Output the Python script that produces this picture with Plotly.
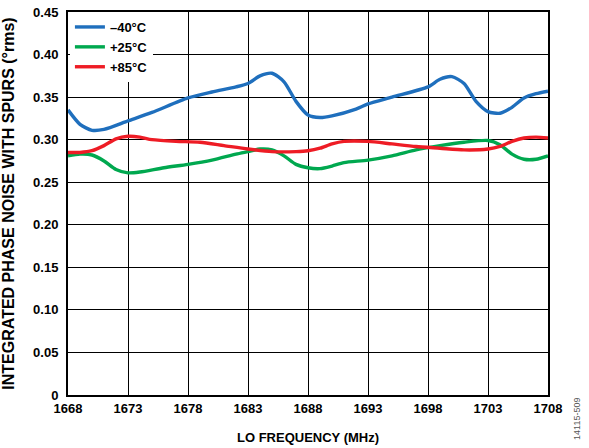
import plotly.graph_objects as go

freq_blue = [1668, 1669, 1670, 1671, 1673, 1675, 1678, 1680, 1682, 1683, 1684, 1685, 1686, 1687, 1688, 1689, 1690, 1692, 1693, 1695, 1698, 1699, 1700, 1701, 1702, 1703, 1704, 1705, 1706, 1707, 1708]
val_blue = [0.335, 0.318, 0.311, 0.312, 0.322, 0.332, 0.349, 0.356, 0.362, 0.366, 0.375, 0.378, 0.368, 0.345, 0.329, 0.326, 0.328, 0.336, 0.342, 0.350, 0.362, 0.371, 0.374, 0.366, 0.345, 0.333, 0.331, 0.338, 0.349, 0.354, 0.357]

freq_green = [1668, 1669, 1670, 1671, 1672, 1673, 1674, 1676, 1678, 1680, 1682, 1683, 1684, 1685, 1686, 1687, 1688, 1689, 1690, 1691, 1693, 1695, 1697, 1699, 1701, 1703, 1704, 1705, 1706, 1707, 1708]
val_green = [0.281, 0.283, 0.282, 0.275, 0.265, 0.261, 0.262, 0.267, 0.271, 0.276, 0.283, 0.286, 0.289, 0.288, 0.281, 0.271, 0.267, 0.266, 0.269, 0.273, 0.276, 0.281, 0.288, 0.293, 0.297, 0.299, 0.294, 0.283, 0.277, 0.277, 0.281]

freq_red = [1668, 1669, 1670, 1671, 1672, 1673, 1674, 1675, 1677, 1679, 1681, 1683, 1685, 1687, 1688, 1689, 1690, 1691, 1693, 1695, 1697, 1699, 1701, 1703, 1704, 1705, 1706, 1707, 1708]
val_red = [0.285, 0.285, 0.287, 0.293, 0.301, 0.304, 0.303, 0.300, 0.298, 0.297, 0.293, 0.289, 0.286, 0.286, 0.287, 0.290, 0.295, 0.298, 0.298, 0.295, 0.292, 0.290, 0.288, 0.289, 0.292, 0.298, 0.302, 0.303, 0.302]

series_names = ["\u201340\u00b0C", "+25\u00b0C", "+85\u00b0C"]
series_colors = ["#1f6fbd", "#00a84f", "#ee1c25"]

x_ticks = [1668, 1673, 1678, 1683, 1688, 1693, 1698, 1703, 1708]
y_ticks = [0, 0.05, 0.10, 0.15, 0.20, 0.25, 0.30, 0.35, 0.40, 0.45]
y_ticktext = ["0", "0.05", "0.10", "0.15", "0.20", "0.25", "0.30", "0.35", "0.40", "0.45"]

FONT = "Liberation Sans, Arial, Helvetica, sans-serif"

fig = go.Figure()
for xs, ys, name, col in zip([freq_blue, freq_green, freq_red],
                             [val_blue, val_green, val_red],
                             series_names, series_colors):
    fig.add_trace(go.Scatter(x=xs, y=ys, mode="lines", name=name,
                             line=dict(color=col, width=3.4, shape="spline", smoothing=0.7)))

fig.update_layout(
    width=589, height=448,
    margin=dict(l=68, r=41, t=12, b=53, autoexpand=False),
    paper_bgcolor="white", plot_bgcolor="white",
    font=dict(family=FONT, color="black"),
    showlegend=True,
    legend=dict(x=0.004, y=1.0, xanchor="left", yanchor="top",
                bgcolor="white", borderwidth=0,
                font=dict(family=FONT, size=13, weight="bold"),
                itemwidth=30, tracegroupgap=0,
                xref="paper", yref="paper"),
    annotations=[dict(text="14115-509", x=1.060, y=-0.063, xref="paper", yref="paper",
                      textangle=-90, showarrow=False,
                      font=dict(family=FONT, size=9, color="#555555"),
                      xanchor="center", yanchor="middle")],
)

fig.update_xaxes(range=[1668, 1708], tickvals=x_ticks, showgrid=True, automargin=False,
                 gridcolor="black", gridwidth=1.4, zeroline=False,
                 showline=True, linecolor="black", linewidth=2, mirror=True,
                 ticks="", ticklabeloverflow="allow",
                 tickfont=dict(family=FONT, size=13, weight="bold"),
                 title=dict(text="LO FREQUENCY (MHz)", standoff=18,
                            font=dict(family=FONT, size=13, weight="bold")))
fig.update_yaxes(range=[0, 0.45], tickvals=y_ticks, ticktext=y_ticktext, showgrid=True, automargin=False,
                 gridcolor="black", gridwidth=1.4, zeroline=False,
                 showline=True, linecolor="black", linewidth=2, mirror=True,
                 ticks="", ticklabelstandoff=5, ticklabeloverflow="allow",
                 tickfont=dict(family=FONT, size=13, weight="bold"),
                 title=dict(text="INTEGRATED PHASE NOISE WITH SPURS (\u00b0rms)", standoff=14,
                            font=dict(family=FONT, size=16, weight="bold")))

# remove the browser's default 8px body margin so the figure sits at the page origin
fig.write_html("out.html", config={"displayModeBar": False},
               post_script="document.body.style.margin='0';")
